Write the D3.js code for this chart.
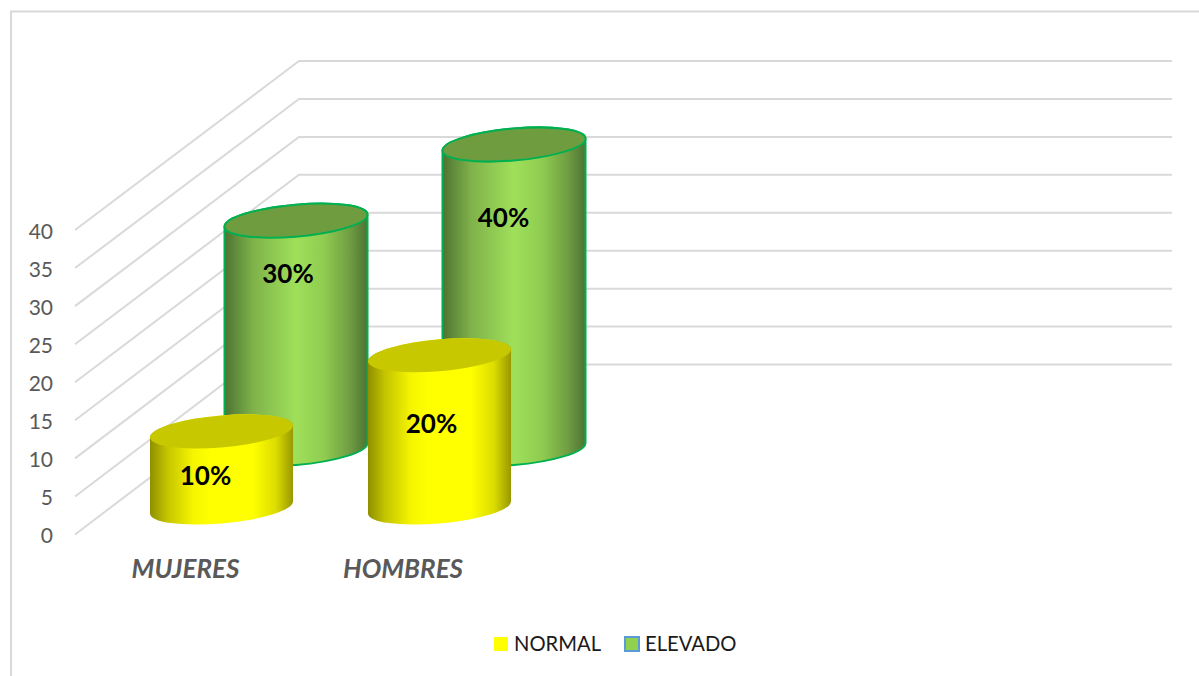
<!DOCTYPE html>
<html>
<head>
<meta charset="utf-8">
<script src="https://cdn.jsdelivr.net/npm/d3@7"></script>
<style>
  html, body { margin: 0; padding: 0; background: #fff; }
  svg { display: block; }
  text { font-family: Lato, "Open Sans", sans-serif; }
</style>
</head>
<body>
<svg id="chart" width="1199" height="676"></svg>
<script>
const categories = ["MUJERES", "HOMBRES"];
const seriesNames = ["NORMAL", "ELEVADO"];
const normalValues = [10, 20];
const elevadoValues = [30, 40];
const axisTicks = [0, 5, 10, 15, 20, 25, 30, 35, 40];

const svg = d3.select("#chart");
const defs = svg.append("defs");

// Height of a value in pixels on the front edge of the wall; the back edge runs parallel.
const yFront = d3.scaleLinear().domain([0, 40]).range([534.5, 230]);
const yBack = d3.scaleLinear().domain([0, 40]).range([364.5, 61]);
const frontX = 75, backX = 299, wallEndX = 1172;

// Floor placement: categories run left to right, the series step back diagonally.
const catX = d3.scalePoint().domain(categories).range([221.5, 439.5]);
const seriesDX = d3.scalePoint().domain(seriesNames).range([0, 74.5]);
const seriesBaseY = d3.scalePoint().domain(seriesNames).range([507.5, 449]);

const radiusX = 71.5, radiusY = 16, tilt = -6 / 72;

// Chart frame: only the top and left borders fall inside the view.
svg.append("path")
  .attr("d", "M11,676V11.5H1199")
  .attr("fill", "none").attr("stroke", "#d9d9d9").attr("stroke-width", 2);

// Gridlines across the side wall and the back wall.
svg.append("g").selectAll("path").data(axisTicks).join("path")
  .attr("d", v => d3.line()([[frontX, yFront(v)], [backX, yBack(v)], [wallEndX, yBack(v)]]))
  .attr("fill", "none").attr("stroke", "#d9d9d9").attr("stroke-width", 2);

// Value axis.
const axis = d3.axisLeft(yFront).tickValues(axisTicks).tickSize(0).tickPadding(0);
const axisG = svg.append("g").attr("transform", "translate(53,0)").call(axis);
axisG.select(".domain").remove();
axisG.selectAll("text")
  .attr("fill", "#595959").style("font-size", "21px").style("font-family", "Lato, sans-serif")
  .attr("dy", "0.4em");

// Cylinder shading, darker toward both edges.
function sideGradient(id, stops) {
  const g = defs.append("linearGradient").attr("id", id)
    .attr("x1", 0).attr("x2", 1).attr("y1", 0).attr("y2", 0);
  stops.forEach(([o, c]) => g.append("stop").attr("offset", o).attr("stop-color", c));
}
sideGradient("sideNormal", [[0, "#8f8f00"], [0.12, "#c4c400"], [0.3, "#f5f500"], [0.42, "#ffff00"], [0.72, "#ffff00"], [0.88, "#dcdc00"], [1, "#989800"]]);
sideGradient("sideElevado", [[0, "#4d7333"], [0.2, "#7fb24a"], [0.5, "#9fe05a"], [0.7, "#8fcb50"], [0.88, "#6f9c42"], [1, "#4d7333"]]);

const styles = {
  NORMAL: { side: "url(#sideNormal)", top: "#c8c800", stroke: "none" },
  ELEVADO: { side: "url(#sideElevado)", top: "#709c40", stroke: "#00b050" }
};

// Each data label sits a little left of the axis of its cylinder and below its lid.
const labelShift = {
  "NORMAL-MUJERES": [-16, 44],
  "NORMAL-HOMBRES": [-8, 67.5],
  "ELEVADO-MUJERES": [-8, 52.5],
  "ELEVADO-HOMBRES": [-10.5, 72]
};

function drawCylinder(series, cat, value) {
  const cx = catX(cat) + seriesDX(series);
  const baseY = seriesBaseY(series);
  const h = yFront(0) - yFront(value);
  const st = styles[series];

  // A vertical shear tilts the ellipses and keeps the sides vertical.
  const g = svg.append("g")
    .attr("transform", `matrix(1,${tilt},0,1,${cx},${baseY})`);
  const sw = st.stroke === "none" ? 0 : 2;

  const bodyD = `M${-radiusX},${-h}V0A${radiusX},${radiusY} 0 0 0 ${radiusX},0V${-h}A${radiusX},${radiusY} 0 0 0 ${-radiusX},${-h}Z`;

  g.append("path").attr("d", bodyD)
    .attr("fill", st.side).attr("stroke", st.stroke).attr("stroke-width", sw);
  g.append("ellipse").attr("cx", 0).attr("cy", -h).attr("rx", radiusX).attr("ry", radiusY)
    .attr("fill", st.top).attr("stroke", st.stroke).attr("stroke-width", sw);

  const [dx, dy] = labelShift[`${series}-${cat}`];
  return { x: cx + dx, y: baseY - h + dy, value };
}

// Back row first so the front row overlaps it.
const labels = [];
categories.forEach((c, i) => labels.push(drawCylinder("ELEVADO", c, elevadoValues[i])));
categories.forEach((c, i) => labels.push(drawCylinder("NORMAL", c, normalValues[i])));

svg.append("g").selectAll("text").data(labels).join("text")
  .attr("x", d => d.x).attr("y", d => d.y)
  .attr("text-anchor", "middle").attr("dominant-baseline", "central")
  .attr("fill", "#000").style("font-size", "26px").style("font-weight", 700)
  .text(d => d.value + "%");

// Category labels.
const catLabelX = d3.scalePoint().domain(categories).range([185.5, 403]);
svg.append("g").selectAll("text").data(categories).join("text")
  .attr("x", c => catLabelX(c)).attr("y", 578)
  .attr("text-anchor", "middle")
  .attr("fill", "#595959").style("font-size", "26px")
  .style("font-weight", 700).style("font-style", "italic")
  .text(c => c);

// Legend.
const legend = svg.append("g");
const legendX = d3.scalePoint().domain(seriesNames).range([494, 625]);
const legendItems = legend.selectAll("g").data(seriesNames).join("g")
  .attr("transform", s => `translate(${legendX(s)},637)`);
legendItems.append("rect")
  .attr("width", 14).attr("height", 14)
  .attr("fill", s => s === "NORMAL" ? "#ffff00" : "#92d050")
  .attr("stroke", s => s === "NORMAL" ? "none" : "#5b9bd5")
  .attr("stroke-width", s => s === "NORMAL" ? 0 : 2);
legendItems.append("text")
  .attr("x", 20).attr("y", 14)
  .attr("fill", "#1a1a1a").style("font-size", "20.2px")
  .text(s => s);
</script>
</body>
</html>
